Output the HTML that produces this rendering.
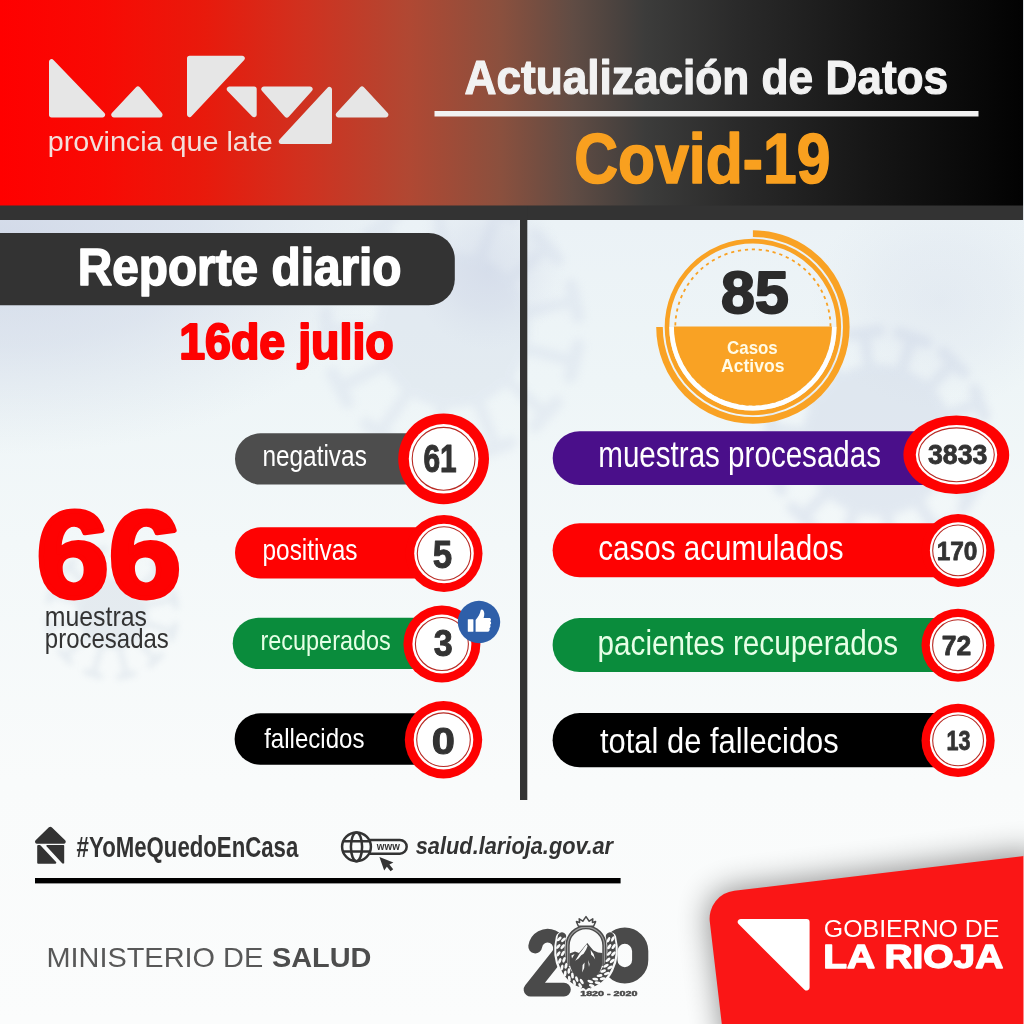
<!DOCTYPE html>
<html lang="es">
<head>
<meta charset="utf-8">
<title>Actualización de Datos Covid-19 - La Rioja</title>
<style>
html,body{margin:0;padding:0;background:#fff;}
body{width:1024px;height:1024px;overflow:hidden;font-family:"Liberation Sans",sans-serif;}
svg{display:block;will-change:transform;}
svg text{font-family:"Liberation Sans",sans-serif;}
</style>
</head>
<body>
<svg width="1024" height="1024" viewBox="0 0 1024 1024">
<defs>
<linearGradient id="hdr" x1="0" y1="0" x2="1024" y2="0" gradientUnits="userSpaceOnUse">
<stop offset="0" stop-color="#ff0000"/>
<stop offset="0.10" stop-color="#f80a04"/>
<stop offset="0.20" stop-color="#e81a0c"/>
<stop offset="0.30" stop-color="#cf3220"/>
<stop offset="0.40" stop-color="#b04833"/>
<stop offset="0.49" stop-color="#8a503e"/>
<stop offset="0.56" stop-color="#604c44"/>
<stop offset="0.63" stop-color="#3c3c3b"/>
<stop offset="0.72" stop-color="#2a2a2a"/>
<stop offset="0.85" stop-color="#161616"/>
<stop offset="1" stop-color="#020202"/>
</linearGradient>
<linearGradient id="bg" x1="0" y1="220" x2="0" y2="1024" gradientUnits="userSpaceOnUse">
<stop offset="0" stop-color="#ebf2f6"/>
<stop offset="0.2" stop-color="#eef5f7"/>
<stop offset="0.4" stop-color="#f3f8f9"/>
<stop offset="0.7" stop-color="#f9fbfb"/>
<stop offset="1" stop-color="#fbfcfc"/>
</linearGradient>
<radialGradient id="blob"><stop offset="0" stop-color="#c3cbe0" stop-opacity="0.78"/><stop offset="0.5" stop-color="#c6cee2" stop-opacity="0.5"/><stop offset="1" stop-color="#d0d8e6" stop-opacity="0"/></radialGradient>
<filter id="blur6" x="-20%" y="-20%" width="140%" height="140%"><feGaussianBlur stdDeviation="3"/></filter>
<filter id="blur8" x="-20%" y="-20%" width="140%" height="140%"><feGaussianBlur stdDeviation="4.5"/></filter>
<filter id="shadow" x="-30%" y="-30%" width="160%" height="160%"><feGaussianBlur stdDeviation="16"/></filter>
</defs>
<rect x="0" y="0" width="1024" height="1024" fill="#f8fafa"/>
<rect x="0" y="206" width="1024" height="818" fill="url(#bg)"/>
<g>
<ellipse cx="0" cy="240" rx="400" ry="215" fill="url(#blob)" opacity="0.8"/>
<g opacity="0.25" filter="url(#blur8)" fill="#c5cfe3" stroke="#c5cfe3"><circle cx="452.0" cy="330.0" r="78.0" stroke="none"/><line x1="520.0" y1="347.4" x2="574.1" y2="361.2" stroke-width="11.7" stroke-linecap="round"/><line x1="578.1" y1="345.5" x2="570.1" y2="376.9" stroke-width="13.2" stroke-linecap="round"/><line x1="504.2" y1="377.0" x2="545.6" y2="414.3" stroke-width="11.7" stroke-linecap="round"/><line x1="556.5" y1="402.3" x2="534.8" y2="426.4" stroke-width="13.2" stroke-linecap="round"/><line x1="476.3" y1="395.8" x2="495.7" y2="448.2" stroke-width="11.7" stroke-linecap="round"/><line x1="510.9" y1="442.6" x2="480.5" y2="453.8" stroke-width="13.2" stroke-linecap="round"/><line x1="443.0" y1="399.6" x2="435.8" y2="455.0" stroke-width="11.7" stroke-linecap="round"/><line x1="451.9" y1="457.0" x2="419.7" y2="452.9" stroke-width="13.2" stroke-linecap="round"/><line x1="411.6" y1="387.4" x2="379.6" y2="433.1" stroke-width="11.7" stroke-linecap="round"/><line x1="392.8" y1="442.4" x2="366.3" y2="423.8" stroke-width="13.2" stroke-linecap="round"/><line x1="389.6" y1="362.1" x2="339.9" y2="387.6" stroke-width="11.7" stroke-linecap="round"/><line x1="347.4" y1="402.1" x2="332.5" y2="373.2" stroke-width="13.2" stroke-linecap="round"/><line x1="381.8" y1="329.4" x2="326.0" y2="328.9" stroke-width="11.7" stroke-linecap="round"/><line x1="325.9" y1="345.2" x2="326.1" y2="312.7" stroke-width="13.2" stroke-linecap="round"/><line x1="390.1" y1="296.9" x2="340.9" y2="270.5" stroke-width="11.7" stroke-linecap="round"/><line x1="333.3" y1="284.8" x2="348.6" y2="256.2" stroke-width="13.2" stroke-linecap="round"/><line x1="412.6" y1="271.9" x2="381.3" y2="225.7" stroke-width="11.7" stroke-linecap="round"/><line x1="367.9" y1="234.8" x2="394.7" y2="216.6" stroke-width="13.2" stroke-linecap="round"/><line x1="444.1" y1="260.2" x2="437.9" y2="204.8" stroke-width="11.7" stroke-linecap="round"/><line x1="421.7" y1="206.6" x2="454.0" y2="203.0" stroke-width="13.2" stroke-linecap="round"/><line x1="477.4" y1="264.6" x2="497.7" y2="212.6" stroke-width="11.7" stroke-linecap="round"/><line x1="482.5" y1="206.7" x2="512.8" y2="218.4" stroke-width="13.2" stroke-linecap="round"/><line x1="504.9" y1="283.9" x2="547.0" y2="247.2" stroke-width="11.7" stroke-linecap="round"/><line x1="536.3" y1="235.0" x2="557.7" y2="259.5" stroke-width="13.2" stroke-linecap="round"/><line x1="520.3" y1="313.8" x2="574.6" y2="300.9" stroke-width="11.7" stroke-linecap="round"/><line x1="570.8" y1="285.1" x2="578.3" y2="316.7" stroke-width="13.2" stroke-linecap="round"/></g>
<ellipse cx="488" cy="268" rx="78" ry="82" fill="url(#blob)" opacity="0.5"/>
<g opacity="0.36" filter="url(#blur8)" fill="#c5cfe3" stroke="#c5cfe3"><circle cx="878.0" cy="440.0" r="76.0" stroke="none"/><line x1="946.1" y1="446.8" x2="985.5" y2="450.8" stroke-width="11.4" stroke-linecap="round"/><line x1="986.9" y1="436.3" x2="984.0" y2="465.3" stroke-width="11.9" stroke-linecap="round"/><line x1="936.4" y1="475.7" x2="970.1" y2="496.3" stroke-width="11.4" stroke-linecap="round"/><line x1="977.8" y1="483.9" x2="962.5" y2="508.8" stroke-width="11.9" stroke-linecap="round"/><line x1="915.1" y1="497.5" x2="936.6" y2="530.7" stroke-width="11.4" stroke-linecap="round"/><line x1="948.8" y1="522.8" x2="924.3" y2="538.7" stroke-width="11.9" stroke-linecap="round"/><line x1="886.5" y1="507.9" x2="891.4" y2="547.2" stroke-width="11.4" stroke-linecap="round"/><line x1="905.9" y1="545.4" x2="876.9" y2="549.0" stroke-width="11.9" stroke-linecap="round"/><line x1="856.2" y1="504.8" x2="843.6" y2="542.4" stroke-width="11.4" stroke-linecap="round"/><line x1="857.4" y1="547.0" x2="829.7" y2="537.7" stroke-width="11.9" stroke-linecap="round"/><line x1="830.2" y1="489.0" x2="802.6" y2="517.3" stroke-width="11.4" stroke-linecap="round"/><line x1="813.0" y1="527.5" x2="792.1" y2="507.1" stroke-width="11.9" stroke-linecap="round"/><line x1="813.7" y1="463.4" x2="776.5" y2="476.9" stroke-width="11.4" stroke-linecap="round"/><line x1="781.5" y1="490.6" x2="771.5" y2="463.2" stroke-width="11.9" stroke-linecap="round"/><line x1="809.9" y1="433.2" x2="770.5" y2="429.2" stroke-width="11.4" stroke-linecap="round"/><line x1="769.1" y1="443.7" x2="772.0" y2="414.7" stroke-width="11.9" stroke-linecap="round"/><line x1="819.6" y1="404.3" x2="785.9" y2="383.7" stroke-width="11.4" stroke-linecap="round"/><line x1="778.2" y1="396.1" x2="793.5" y2="371.2" stroke-width="11.9" stroke-linecap="round"/><line x1="840.9" y1="382.5" x2="819.4" y2="349.3" stroke-width="11.4" stroke-linecap="round"/><line x1="807.2" y1="357.2" x2="831.7" y2="341.3" stroke-width="11.9" stroke-linecap="round"/><line x1="869.5" y1="372.1" x2="864.6" y2="332.8" stroke-width="11.4" stroke-linecap="round"/><line x1="850.1" y1="334.6" x2="879.1" y2="331.0" stroke-width="11.9" stroke-linecap="round"/><line x1="899.8" y1="375.2" x2="912.4" y2="337.6" stroke-width="11.4" stroke-linecap="round"/><line x1="898.6" y1="333.0" x2="926.3" y2="342.3" stroke-width="11.9" stroke-linecap="round"/><line x1="925.8" y1="391.0" x2="953.4" y2="362.7" stroke-width="11.4" stroke-linecap="round"/><line x1="943.0" y1="352.5" x2="963.9" y2="372.9" stroke-width="11.9" stroke-linecap="round"/><line x1="942.3" y1="416.6" x2="979.5" y2="403.1" stroke-width="11.4" stroke-linecap="round"/><line x1="974.5" y1="389.4" x2="984.5" y2="416.8" stroke-width="11.9" stroke-linecap="round"/></g>
<ellipse cx="940" cy="300" rx="130" ry="110" fill="url(#blob)" opacity="0.28"/>
<g opacity="0.36" filter="url(#blur6)" fill="#c9d4e0" stroke="#c9d4e0"><circle cx="112.0" cy="613.0" r="36.0" stroke="none"/><line x1="143.0" y1="622.6" x2="173.1" y2="631.9" stroke-width="5.4" stroke-linecap="round"/><line x1="175.4" y1="624.8" x2="170.9" y2="639.1" stroke-width="6.1" stroke-linecap="round"/><line x1="134.0" y1="636.8" x2="155.5" y2="660.0" stroke-width="5.4" stroke-linecap="round"/><line x1="161.0" y1="654.9" x2="150.0" y2="665.0" stroke-width="6.1" stroke-linecap="round"/><line x1="119.2" y1="644.6" x2="126.2" y2="675.4" stroke-width="5.4" stroke-linecap="round"/><line x1="133.5" y1="673.7" x2="118.9" y2="677.1" stroke-width="6.1" stroke-linecap="round"/><line x1="102.4" y1="644.0" x2="93.1" y2="674.1" stroke-width="5.4" stroke-linecap="round"/><line x1="100.2" y1="676.4" x2="85.9" y2="671.9" stroke-width="6.1" stroke-linecap="round"/><line x1="88.2" y1="635.0" x2="65.0" y2="656.5" stroke-width="5.4" stroke-linecap="round"/><line x1="70.1" y1="662.0" x2="60.0" y2="651.0" stroke-width="6.1" stroke-linecap="round"/><line x1="80.4" y1="620.2" x2="49.6" y2="627.2" stroke-width="5.4" stroke-linecap="round"/><line x1="51.3" y1="634.5" x2="47.9" y2="619.9" stroke-width="6.1" stroke-linecap="round"/><line x1="81.0" y1="603.4" x2="50.9" y2="594.1" stroke-width="5.4" stroke-linecap="round"/><line x1="48.6" y1="601.2" x2="53.1" y2="586.9" stroke-width="6.1" stroke-linecap="round"/><line x1="90.0" y1="589.2" x2="68.5" y2="566.0" stroke-width="5.4" stroke-linecap="round"/><line x1="63.0" y1="571.1" x2="74.0" y2="561.0" stroke-width="6.1" stroke-linecap="round"/><line x1="104.8" y1="581.4" x2="97.8" y2="550.6" stroke-width="5.4" stroke-linecap="round"/><line x1="90.5" y1="552.3" x2="105.1" y2="548.9" stroke-width="6.1" stroke-linecap="round"/><line x1="121.6" y1="582.0" x2="130.9" y2="551.9" stroke-width="5.4" stroke-linecap="round"/><line x1="123.8" y1="549.6" x2="138.1" y2="554.1" stroke-width="6.1" stroke-linecap="round"/><line x1="135.8" y1="591.0" x2="159.0" y2="569.5" stroke-width="5.4" stroke-linecap="round"/><line x1="153.9" y1="564.0" x2="164.0" y2="575.0" stroke-width="6.1" stroke-linecap="round"/><line x1="143.6" y1="605.8" x2="174.4" y2="598.8" stroke-width="5.4" stroke-linecap="round"/><line x1="172.7" y1="591.5" x2="176.1" y2="606.1" stroke-width="6.1" stroke-linecap="round"/></g>
</g>
<rect x="0" y="0" width="1024" height="206" fill="url(#hdr)"/>
<rect x="0" y="205.5" width="1024" height="14.5" fill="#333"/>
<rect x="1023" y="0" width="1" height="220" fill="#dfe4e8"/>
<path d="M53.47,59.95 A2.60,2.60 0 0 0 49.00,61.76 L49.00,114.80 A2.60,2.60 0 0 0 51.60,117.40 L102.59,117.40 A2.60,2.60 0 0 0 104.47,113.00 Z" fill="#e6e6e6"/>
<path d="M139.89,87.31 A2.60,2.60 0 0 0 136.01,87.22 L111.89,113.02 A2.60,2.60 0 0 0 113.79,117.40 L159.96,117.40 A2.60,2.60 0 0 0 161.94,113.11 Z" fill="#e6e6e6"/>
<path d="M187.00,58.30 A2.60,2.60 0 0 1 189.60,55.70 L242.30,55.70 A2.60,2.60 0 0 1 244.20,60.08 L191.50,116.30 A2.60,2.60 0 0 1 187.00,114.52 Z" fill="#e6e6e6"/>
<path d="M227.47,90.91 A2.60,2.60 0 0 1 229.34,86.50 L254.10,86.50 A2.60,2.60 0 0 1 256.70,89.10 L256.70,114.68 A2.60,2.60 0 0 1 252.23,116.49 Z" fill="#e6e6e6"/>
<path d="M261.86,90.83 A2.60,2.60 0 0 1 263.80,86.50 L310.14,86.50 A2.60,2.60 0 0 1 312.07,90.84 L288.74,116.65 A2.60,2.60 0 0 1 284.87,116.64 Z" fill="#e6e6e6"/>
<path d="M327.49,87.66 A2.60,2.60 0 0 1 332.00,89.43 L332.00,141.40 A2.60,2.60 0 0 1 329.40,144.00 L281.25,144.00 A2.60,2.60 0 0 1 279.35,139.63 Z" fill="#e6e6e6"/>
<path d="M363.92,87.18 A2.60,2.60 0 0 0 360.09,87.18 L336.39,113.04 A2.60,2.60 0 0 0 338.31,117.40 L385.86,117.40 A2.60,2.60 0 0 0 387.77,113.04 Z" fill="#e6e6e6"/>
<text x="47.66" y="151.30" font-size="27.40" font-weight="400" fill="#f3dfdb" textLength="225.11" lengthAdjust="spacingAndGlyphs">provincia que late</text>
<text x="464.54" y="94.10" font-size="48.26" font-weight="700" fill="#f2f2f2" stroke="#f2f2f2" stroke-width="1.20" stroke-linejoin="round" textLength="483.62" lengthAdjust="spacingAndGlyphs">Actualización de Datos</text>
<rect x="434.5" y="111" width="544" height="5.5" fill="#f2f2f2"/>
<text x="574.31" y="183.00" font-size="70.37" font-weight="700" fill="#f9a01f" stroke="#f9a01f" stroke-width="1.60" stroke-linejoin="round" textLength="256.08" lengthAdjust="spacingAndGlyphs">Covid-19</text>
<rect x="520" y="206" width="7.3" height="594" fill="#333"/>
<path d="M0,233 H428.8 A26,26 0 0 1 454.8,259 V279.2 A26,26 0 0 1 428.8,305.2 H0 Z" fill="#333"/>
<text x="77.65" y="284.70" font-size="52.17" font-weight="700" fill="#ffffff" stroke="#ffffff" stroke-width="1.60" stroke-linejoin="round" textLength="323.91" lengthAdjust="spacingAndGlyphs">Reporte diario</text>
<text x="179.22" y="359.40" font-size="50.80" font-weight="700" fill="#fe0202" stroke="#fe0202" stroke-width="2.20" stroke-linejoin="round" textLength="214.51" lengthAdjust="spacingAndGlyphs">16de julio</text>
<text x="36.41" y="597.00" font-size="123.34" font-weight="700" fill="#fe0202" stroke="#fe0202" stroke-width="5.00" stroke-linejoin="round" textLength="144.89" lengthAdjust="spacingAndGlyphs">66</text>
<text x="44.76" y="626.00" font-size="28.00" font-weight="400" fill="#333" textLength="102.14" lengthAdjust="spacingAndGlyphs">muestras</text>
<text x="44.87" y="648.00" font-size="28.00" font-weight="400" fill="#333" textLength="124.00" lengthAdjust="spacingAndGlyphs">procesadas</text>
<rect x="235.00" y="433.30" width="215.00" height="51.20" rx="25.60" ry="25.60" fill="#4d4d4d"/>
<rect x="235.00" y="527.30" width="215.00" height="51.10" rx="25.55" ry="25.55" fill="#fe0202"/>
<rect x="232.70" y="617.80" width="217.30" height="51.20" rx="25.60" ry="25.60" fill="#0a8c3c"/>
<rect x="234.60" y="713.30" width="215.40" height="51.50" rx="25.75" ry="25.75" fill="#000000"/>
<text x="262.39" y="465.90" font-size="29.50" font-weight="400" fill="#ffffff" textLength="104.48" lengthAdjust="spacingAndGlyphs">negativas</text>
<text x="262.44" y="560.20" font-size="29.00" font-weight="400" fill="#ffffff" textLength="95.14" lengthAdjust="spacingAndGlyphs">positivas</text>
<text x="260.45" y="650.40" font-size="28.50" font-weight="400" fill="#e6ffe6" textLength="130.40" lengthAdjust="spacingAndGlyphs">recuperados</text>
<text x="264.16" y="748.00" font-size="28.50" font-weight="400" fill="#ffffff" textLength="100.30" lengthAdjust="spacingAndGlyphs">fallecidos</text>
<ellipse cx="443.60" cy="458.80" rx="45.40" ry="45.40" fill="#fe0202"/>
<ellipse cx="443.60" cy="458.80" rx="34.80" ry="34.80" fill="#ffffff"/>
<ellipse cx="443.60" cy="458.80" rx="31.40" ry="31.40" fill="none" stroke="#b82a24" stroke-width="1.1"/>
<ellipse cx="444.00" cy="553.50" rx="38.50" ry="38.50" fill="#fe0202"/>
<ellipse cx="444.00" cy="553.50" rx="29.80" ry="29.80" fill="#ffffff"/>
<ellipse cx="444.00" cy="553.50" rx="26.70" ry="26.70" fill="none" stroke="#b82a24" stroke-width="1.1"/>
<ellipse cx="441.90" cy="644.00" rx="38.50" ry="38.50" fill="#fe0202"/>
<ellipse cx="441.90" cy="644.00" rx="29.50" ry="29.50" fill="#ffffff"/>
<ellipse cx="441.90" cy="644.00" rx="26.50" ry="26.50" fill="none" stroke="#b82a24" stroke-width="1.1"/>
<ellipse cx="443.50" cy="739.70" rx="38.70" ry="38.70" fill="#fe0202"/>
<ellipse cx="443.50" cy="739.70" rx="29.80" ry="29.80" fill="#ffffff"/>
<ellipse cx="443.50" cy="739.70" rx="26.80" ry="26.80" fill="none" stroke="#b82a24" stroke-width="1.1"/>
<text x="423.42" y="472.40" font-size="38.59" font-weight="700" fill="#333333" stroke="#333333" stroke-width="1.00" stroke-linejoin="round" textLength="33.30" lengthAdjust="spacingAndGlyphs">61</text>
<text x="432.75" y="567.50" font-size="38.09" font-weight="700" fill="#333333" stroke="#333333" stroke-width="1.00" stroke-linejoin="round" textLength="19.39" lengthAdjust="spacingAndGlyphs">5</text>
<text x="433.75" y="656.10" font-size="37.59" font-weight="700" fill="#333333" stroke="#333333" stroke-width="1.00" stroke-linejoin="round" textLength="18.95" lengthAdjust="spacingAndGlyphs">3</text>
<text x="431.87" y="753.80" font-size="37.59" font-weight="700" fill="#333333" stroke="#333333" stroke-width="1.00" stroke-linejoin="round" textLength="23.20" lengthAdjust="spacingAndGlyphs">0</text>
<circle cx="479" cy="622" r="21.2" fill="#2e5fa9"/>
<g fill="#ffffff"><rect x="467.8" y="619.2" width="5.6" height="12.6" rx="0.6"/><path d="M475.6,631.8 V620 C478,617.5 480.2,614 480.6,610.6 C480.8,609.4 482.4,609.3 483.2,610.2 C484.6,611.8 484.6,614.8 483.6,618 H489.2 C491.2,618 491.6,620.4 490.2,621.2 C491.6,622 491.4,624.2 490,624.8 C491,625.8 490.6,627.8 489.4,628.2 C490.2,629.6 489.4,631.8 487.6,631.8 Z"/></g>
<path d="M752.90,233.60 A93.40,93.40 0 1 1 659.50,327.00" fill="none" stroke="#f9a224" stroke-width="6.6"/>
<circle cx="752.90" cy="327.00" r="85.9" fill="none" stroke="#f9a224" stroke-width="4.6"/>
<path d="M834.10,327.00 A81.2,81.2 0 0 1 671.70,327.00" fill="none" stroke="#ffffff" stroke-width="4.8" opacity="0.92"/>
<circle cx="752.90" cy="327.00" r="77.6" fill="none" stroke="#f9a224" stroke-width="1.8" stroke-dasharray="3.2 3.8"/>
<path d="M673.90,326.50 H831.90 A79,79 0 0 1 673.90,326.50 Z" fill="#f9a224"/>
<text x="721.11" y="312.90" font-size="58.68" font-weight="700" fill="#2b2b2b" stroke="#2b2b2b" stroke-width="2.00" stroke-linejoin="round" textLength="67.65" lengthAdjust="spacingAndGlyphs">85</text>
<text x="727.01" y="354.20" font-size="19.00" font-weight="700" fill="#fffbe6" textLength="50.78" lengthAdjust="spacingAndGlyphs">Casos</text>
<text x="721.08" y="372.30" font-size="19.00" font-weight="700" fill="#fffbe6" textLength="63.43" lengthAdjust="spacingAndGlyphs">Activos</text>
<rect x="552.70" y="431.20" width="407.30" height="53.80" rx="26.90" ry="26.90" fill="#4a0f8a"/>
<rect x="552.60" y="523.20" width="407.40" height="54.10" rx="27.05" ry="27.05" fill="#fe0202"/>
<rect x="552.60" y="618.10" width="407.40" height="53.90" rx="26.95" ry="26.95" fill="#0a8c3c"/>
<rect x="552.60" y="713.10" width="407.40" height="54.10" rx="27.05" ry="27.05" fill="#000000"/>
<text x="598.25" y="467.30" font-size="36.20" font-weight="400" fill="#ffffff" textLength="282.82" lengthAdjust="spacingAndGlyphs">muestras procesadas</text>
<text x="598.16" y="560.10" font-size="35.20" font-weight="400" fill="#ffffff" textLength="245.32" lengthAdjust="spacingAndGlyphs">casos acumulados</text>
<text x="597.50" y="655.10" font-size="35.20" font-weight="400" fill="#e6ffe6" textLength="300.56" lengthAdjust="spacingAndGlyphs">pacientes recuperados</text>
<text x="600.04" y="753.10" font-size="35.20" font-weight="400" fill="#ffffff" textLength="238.68" lengthAdjust="spacingAndGlyphs">total de fallecidos</text>
<ellipse cx="956.3" cy="454.8" rx="52.9" ry="39.3" fill="#fe0202"/>
<ellipse cx="956.5" cy="454.8" rx="40.7" ry="29.8" fill="#fff"/>
<ellipse cx="956.5" cy="454.8" rx="37.8" ry="26.9" fill="none" stroke="#b82a24" stroke-width="1.1"/>
<text x="928.01" y="463.90" font-size="26.87" font-weight="700" fill="#333333" stroke="#333333" stroke-width="0.80" stroke-linejoin="round" textLength="59.34" lengthAdjust="spacingAndGlyphs">3833</text>
<ellipse cx="958.10" cy="550.40" rx="36.50" ry="36.50" fill="#fe0202"/>
<ellipse cx="958.10" cy="550.40" rx="28.20" ry="28.20" fill="#ffffff"/>
<ellipse cx="958.10" cy="550.40" rx="25.40" ry="25.40" fill="none" stroke="#b82a24" stroke-width="1.1"/>
<ellipse cx="958.00" cy="645.20" rx="36.50" ry="36.50" fill="#fe0202"/>
<ellipse cx="958.00" cy="645.20" rx="28.20" ry="28.20" fill="#ffffff"/>
<ellipse cx="958.00" cy="645.20" rx="25.40" ry="25.40" fill="none" stroke="#b82a24" stroke-width="1.1"/>
<ellipse cx="958.10" cy="740.40" rx="36.60" ry="36.60" fill="#fe0202"/>
<ellipse cx="958.10" cy="740.40" rx="28.20" ry="28.20" fill="#ffffff"/>
<ellipse cx="958.10" cy="740.40" rx="25.40" ry="25.40" fill="none" stroke="#b82a24" stroke-width="1.1"/>
<text x="936.68" y="560.10" font-size="26.57" font-weight="700" fill="#333333" stroke="#333333" stroke-width="0.80" stroke-linejoin="round" textLength="40.81" lengthAdjust="spacingAndGlyphs">170</text>
<text x="941.69" y="655.10" font-size="27.17" font-weight="700" fill="#333333" stroke="#333333" stroke-width="0.80" stroke-linejoin="round" textLength="29.45" lengthAdjust="spacingAndGlyphs">72</text>
<text x="946.56" y="750.30" font-size="27.17" font-weight="700" fill="#333333" stroke="#333333" stroke-width="0.80" stroke-linejoin="round" textLength="24.00" lengthAdjust="spacingAndGlyphs">13</text>
<path d="M51.70,827.35 A2.00,2.00 0 0 0 48.91,827.36 L35.61,840.37 A2.00,2.00 0 0 0 37.01,843.80 L63.76,843.80 A2.00,2.00 0 0 0 65.15,840.36 Z" fill="#333333"/>
<path d="M37.20,846.10 A1.00,1.00 0 0 1 38.20,845.10 L39.86,845.10 A1.00,1.00 0 0 1 40.60,845.42 L56.04,862.02 A1.00,1.00 0 0 1 55.30,863.70 L38.20,863.70 A1.00,1.00 0 0 1 37.20,862.70 Z" fill="#333333"/>
<path d="M46.49,846.28 A0.70,0.70 0 0 1 47.01,845.10 L63.50,845.10 A0.70,0.70 0 0 1 64.20,845.80 L64.20,862.90 A0.70,0.70 0 0 1 63.50,863.60 L62.90,863.60 A0.70,0.70 0 0 1 62.39,863.38 Z" fill="#333333"/>
<text x="76.62" y="856.80" font-size="29.00" font-weight="700" fill="#333333" textLength="221.72" lengthAdjust="spacingAndGlyphs">#YoMeQuedoEnCasa</text>
<g fill="none" stroke="#333333" stroke-width="2.5">
<circle cx="356.5" cy="846.8" r="14.4"/>
<ellipse cx="356.5" cy="846.8" rx="5.6" ry="14.4"/>
<path d="M343.5,841.2 H369.5 M343.5,851.6 H369.5"/>
<path d="M370,839.9 H399.8 A6.9,6.9 0 0 1 399.8,853.7 H370"/>
</g>
<text x="376.83" y="849.80" font-size="10.40" font-weight="700" fill="#333333" textLength="22.95" lengthAdjust="spacingAndGlyphs">www</text>
<path d="M379.4,857.1 L393.4,862.6 L389.4,864.6 L393.2,869.2 L390.6,871.3 L386.9,866.7 L384.2,870.6 Z" fill="#333333"/>
<text x="415.76" y="854.00" font-size="23.50" font-weight="700" font-style="italic" fill="#333333" textLength="197.34" lengthAdjust="spacingAndGlyphs">salud.larioja.gov.ar</text>
<rect x="35" y="878" width="585.6" height="5.4" fill="#000"/>
<text x="46.43" y="967.00" font-size="27.30" font-weight="400" fill="#585858" textLength="216.77" lengthAdjust="spacingAndGlyphs">MINISTERIO DE</text>
<text x="271.99" y="967.00" font-size="27.30" font-weight="700" fill="#4d4d4d" textLength="99.50" lengthAdjust="spacingAndGlyphs">SALUD</text>
<path d="M721,892 L1040,852 L1040,1050 L727,1050 L710,921 Q706,895 731,892 Z" fill="#000" opacity="0.47" filter="url(#shadow)"/>
<path d="M1024,856.1 L734.3,890.7 A28,28 0 0 0 709.8,921.8 L721.8,1024 L1024,1024 Z" fill="#fa1616"/>
<path d="M738.55,924.03 A3.00,3.00 0 0 1 740.66,918.90 L806.60,918.90 A3.00,3.00 0 0 1 809.60,921.90 L809.60,987.58 A3.00,3.00 0 0 1 804.48,989.70 Z" fill="#ffffff"/>
<text x="823.86" y="936.70" font-size="24.40" font-weight="400" fill="#ffffff" textLength="175.58" lengthAdjust="spacingAndGlyphs">GOBIERNO DE</text>
<text x="823.18" y="967.65" font-size="32.31" font-weight="700" fill="#ffffff" stroke="#ffffff" stroke-width="1.30" stroke-linejoin="round" textLength="180.18" lengthAdjust="spacingAndGlyphs">LA RIOJA</text>
<g id="bicentenario">
<path d="M535.2,946.5 A12.5,12.5 0 1 1 557,956.4 L530.6,989.6 H563.9" fill="none" stroke="#4a4a4a" stroke-width="13.8" stroke-linecap="round" stroke-linejoin="round"/>
<rect x="609.4" y="935.7" width="30.8" height="39.6" rx="15.4" ry="15.4" fill="none" stroke="#4a4a4a" stroke-width="16.2"/>
<path d="M561.5,938 C556,960 566,982 586,984.5 C606,982 616,960 610.5,938" fill="none" stroke="#fafbfb" stroke-width="11.5" stroke-linecap="round"/>
<path d="M568,975 L604,975 L604,940 A18,18 0 0 0 568,940 Z" fill="#fafbfb"/>
<path d="M567.6,966 V945.6 A18.4,18.4 0 0 1 604.4,945.6 V966" fill="none" stroke="#4a4a4a" stroke-width="4.2"/>
<path d="M567.6,966 V945.6 A18.4,18.4 0 0 1 604.4,945.6 V966" fill="none" stroke="#9a9a9a" stroke-width="1.3"/>
<path d="M569.6,953.5 L575,951.5 L579,953 L587.3,943 L590.5,947 L593.5,950.5 L598,952.5 L602.4,953 L602.4,964 C600,975 594,980 586,982 C578,980 572,975 569.6,964 Z" fill="#4a4a4a"/>
<path d="M586.6,944.2 L579.6,953.6 L575.2,960.8 L578.6,958.6 L581.2,955.2 L583.6,953.8 L586.2,949.4 L587.6,946 Z" fill="#fafbfb"/>
<path d="M590.6,950 L593.6,954 L595.2,959.4 L593.2,956.6 L591.2,954.8 Z M571.4,955.6 L574.6,954 L572,958.4 Z M582.6,965 L584.6,962.4 L584.2,968 L582.2,972.6 Z M588,960 L589.6,964 L589,967 Z" fill="#fafbfb"/>
<path d="M562,936.5 C556.5,958 566,980.5 585,984.2" fill="none" stroke="#4a4a4a" stroke-width="8.4" stroke-linecap="round"/>
<path d="M610,936.5 C615.5,958 606,980.5 587,984.2" fill="none" stroke="#4a4a4a" stroke-width="8.4" stroke-linecap="round"/>
<ellipse cx="581.73" cy="981.55" rx="3.0" ry="1.4" fill="#fafbfb" transform="rotate(-122.7 581.73 981.55)"/>
<ellipse cx="580.27" cy="985.70" rx="3.0" ry="1.4" fill="#fafbfb" transform="rotate(-122.7 580.27 985.70)"/>
<ellipse cx="576.77" cy="979.11" rx="3.0" ry="1.4" fill="#fafbfb" transform="rotate(-109.1 576.77 979.11)"/>
<ellipse cx="574.38" cy="982.80" rx="3.0" ry="1.4" fill="#fafbfb" transform="rotate(-109.1 574.38 982.80)"/>
<ellipse cx="572.47" cy="975.58" rx="3.0" ry="1.4" fill="#fafbfb" transform="rotate(-96.5 572.47 975.58)"/>
<ellipse cx="569.33" cy="978.67" rx="3.0" ry="1.4" fill="#fafbfb" transform="rotate(-96.5 569.33 978.67)"/>
<ellipse cx="568.86" cy="971.10" rx="3.0" ry="1.4" fill="#fafbfb" transform="rotate(-85.3 568.86 971.10)"/>
<ellipse cx="565.19" cy="973.51" rx="3.0" ry="1.4" fill="#fafbfb" transform="rotate(-85.3 565.19 973.51)"/>
<ellipse cx="566.02" cy="965.79" rx="3.0" ry="1.4" fill="#fafbfb" transform="rotate(-75.3 566.02 965.79)"/>
<ellipse cx="561.98" cy="967.54" rx="3.0" ry="1.4" fill="#fafbfb" transform="rotate(-75.3 561.98 967.54)"/>
<ellipse cx="564.00" cy="959.84" rx="3.0" ry="1.4" fill="#fafbfb" transform="rotate(-66.3 564.00 959.84)"/>
<ellipse cx="559.74" cy="960.92" rx="3.0" ry="1.4" fill="#fafbfb" transform="rotate(-66.3 559.74 960.92)"/>
<ellipse cx="562.88" cy="953.40" rx="3.0" ry="1.4" fill="#fafbfb" transform="rotate(-57.7 562.88 953.40)"/>
<ellipse cx="558.50" cy="953.84" rx="3.0" ry="1.4" fill="#fafbfb" transform="rotate(-57.7 558.50 953.84)"/>
<ellipse cx="562.70" cy="946.66" rx="3.0" ry="1.4" fill="#fafbfb" transform="rotate(-49.4 562.70 946.66)"/>
<ellipse cx="558.30" cy="946.46" rx="3.0" ry="1.4" fill="#fafbfb" transform="rotate(-49.4 558.30 946.46)"/>
<ellipse cx="563.51" cy="939.79" rx="3.0" ry="1.4" fill="#fafbfb" transform="rotate(-41.0 563.51 939.79)"/>
<ellipse cx="559.20" cy="938.96" rx="3.0" ry="1.4" fill="#fafbfb" transform="rotate(-41.0 559.20 938.96)"/>
<ellipse cx="591.73" cy="985.70" rx="3.0" ry="1.4" fill="#fafbfb" transform="rotate(18.7 591.73 985.70)"/>
<ellipse cx="590.27" cy="981.55" rx="3.0" ry="1.4" fill="#fafbfb" transform="rotate(18.7 590.27 981.55)"/>
<ellipse cx="597.62" cy="982.80" rx="3.0" ry="1.4" fill="#fafbfb" transform="rotate(5.1 597.62 982.80)"/>
<ellipse cx="595.23" cy="979.11" rx="3.0" ry="1.4" fill="#fafbfb" transform="rotate(5.1 595.23 979.11)"/>
<ellipse cx="602.67" cy="978.67" rx="3.0" ry="1.4" fill="#fafbfb" transform="rotate(-7.5 602.67 978.67)"/>
<ellipse cx="599.53" cy="975.58" rx="3.0" ry="1.4" fill="#fafbfb" transform="rotate(-7.5 599.53 975.58)"/>
<ellipse cx="606.81" cy="973.51" rx="3.0" ry="1.4" fill="#fafbfb" transform="rotate(-18.7 606.81 973.51)"/>
<ellipse cx="603.14" cy="971.10" rx="3.0" ry="1.4" fill="#fafbfb" transform="rotate(-18.7 603.14 971.10)"/>
<ellipse cx="610.02" cy="967.54" rx="3.0" ry="1.4" fill="#fafbfb" transform="rotate(-28.7 610.02 967.54)"/>
<ellipse cx="605.98" cy="965.79" rx="3.0" ry="1.4" fill="#fafbfb" transform="rotate(-28.7 605.98 965.79)"/>
<ellipse cx="612.26" cy="960.92" rx="3.0" ry="1.4" fill="#fafbfb" transform="rotate(-37.7 612.26 960.92)"/>
<ellipse cx="608.00" cy="959.84" rx="3.0" ry="1.4" fill="#fafbfb" transform="rotate(-37.7 608.00 959.84)"/>
<ellipse cx="613.50" cy="953.84" rx="3.0" ry="1.4" fill="#fafbfb" transform="rotate(-46.3 613.50 953.84)"/>
<ellipse cx="609.12" cy="953.40" rx="3.0" ry="1.4" fill="#fafbfb" transform="rotate(-46.3 609.12 953.40)"/>
<ellipse cx="613.70" cy="946.46" rx="3.0" ry="1.4" fill="#fafbfb" transform="rotate(-54.6 613.70 946.46)"/>
<ellipse cx="609.30" cy="946.66" rx="3.0" ry="1.4" fill="#fafbfb" transform="rotate(-54.6 609.30 946.66)"/>
<ellipse cx="612.80" cy="938.96" rx="3.0" ry="1.4" fill="#fafbfb" transform="rotate(-63.0 612.80 938.96)"/>
<ellipse cx="608.49" cy="939.79" rx="3.0" ry="1.4" fill="#fafbfb" transform="rotate(-63.0 608.49 939.79)"/>
<path d="M586,983.4 L580.6,988.8 L583.6,987.4 L586,990 L588.4,987.4 L591.4,988.8 Z" fill="#4a4a4a"/>
<path d="M578.4,926.2 L576.4,921.6 L579.6,922.4 L579.2,918.8 L582.8,921.2 L586,916.6 L589.2,921.2 L592.8,918.8 L592.4,922.4 L595.6,921.6 L593.6,926.2 Z" fill="#fafbfb" stroke="#4a4a4a" stroke-width="1.5" stroke-linejoin="round"/>
<text x="580.19" y="996.25" font-size="8.07" font-weight="700" fill="#4a4a4a" stroke="#4a4a4a" stroke-width="0.50" stroke-linejoin="round" textLength="57.19" lengthAdjust="spacingAndGlyphs">1820 - 2020</text>
</g>
<rect x="1023" y="856" width="1" height="168" fill="#ff8a8a"/>
</svg>
</body>
</html>
